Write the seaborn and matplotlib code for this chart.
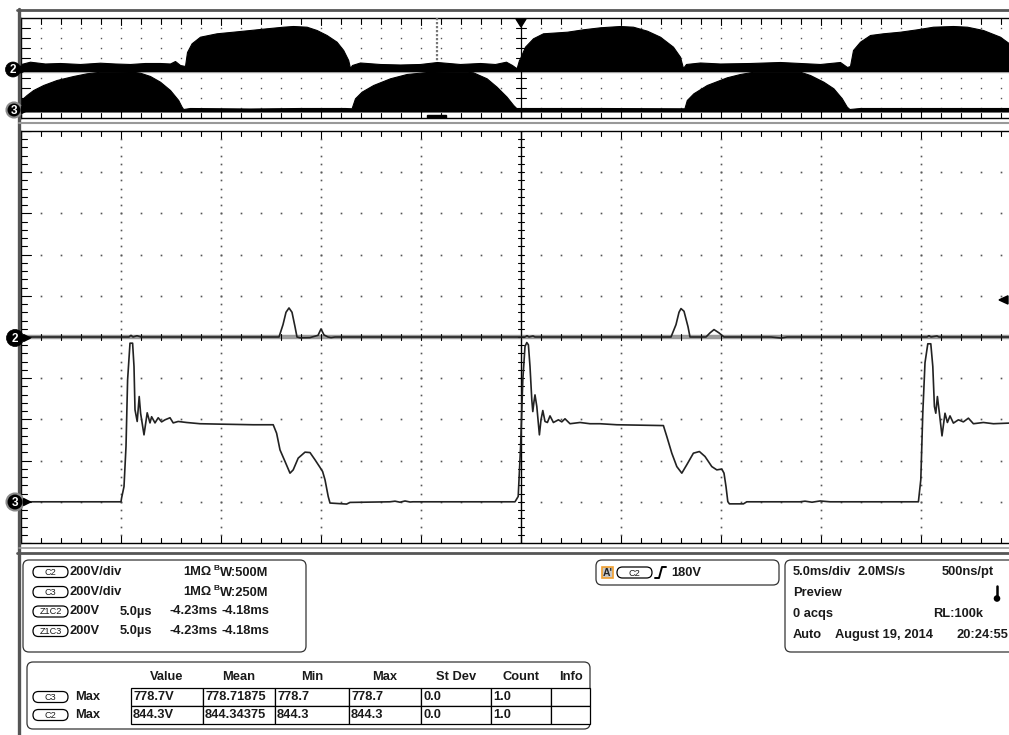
import numpy as np
import pandas as pd
import matplotlib
matplotlib.use("Agg")
import matplotlib.pyplot as plt
import seaborn as sns
from matplotlib.patches import FancyBboxPatch, Rectangle, Circle, Polygon

# ---------------- data ----------------
# Overview panel: 5 ms/div, 200 V/div ; envelopes (time ms, volts)
ch2_env_upper = [(-25.0, 120), (-24.55, 166), (-23.8, 130), (-23.05, 140), (-22.05, 120), (-21.05, 146),
                 (-20.3, 130), (-19.55, 120), (-18.8, 140), (-18.05, 140), (-17.55, 130), (-17.3, 180),
                 (-17.05, 100), (-16.8, 80), (-16.7, 360), (-16.47, 534), (-16.05, 666), (-15.22, 734),
                 (-14.4, 766), (-13.55, 800), (-12.72, 834), (-11.9, 866), (-11.4, 880), (-10.72, 866),
                 (-10.22, 800), (-9.72, 700), (-9.22, 566), (-8.89, 400), (-8.64, 200), (-8.55, 40),
                 (-8.45, 100), (-8.05, 150), (-7.05, 120), (-6.05, 110), (-5.05, 120), (-4.2, 160),
                 (-3.05, 120), (-2.05, 140), (-1.3, 120), (-0.75, 166), (-0.45, 100), (-0.22, 34),
                 (-0.1, 200), (-0.05, 234), (0.2, 466), (0.6, 634), (1.1, 734), (2.3, 766), (3.1, 814),
                 (3.95, 854), (4.95, 880), (5.6, 866), (6.3, 786), (6.95, 666), (7.6, 466), (7.95, 266),
                 (8.1, 40), (8.25, 120), (8.95, 150), (9.95, 130), (11.45, 140), (12.95, 160), (13.95, 140),
                 (14.95, 120), (15.95, 160), (16.3, 60), (16.45, 80), (16.6, 400), (16.95, 566), (17.45, 700),
                 (18.1, 734), (18.95, 766), (19.8, 814), (20.6, 866), (21.6, 880), (22.3, 866), (23.1, 800),
                 (23.95, 666), (24.4, 534), (24.65, 300), (24.75, 60), (25.0, 120)]
ch2_env_lower = -20
ch3_env_upper = [(-25.0, 200), (-24.72, 300), (-24.39, 400), (-23.89, 500), (-23.22, 600), (-22.39, 680),
                 (-21.72, 734), (-21.05, 766), (-19.3, 760), (-19.05, 746), (-18.55, 680), (-18.05, 566),
                 (-17.55, 400), (-17.14, 200), (-16.97, 66), (-16.89, 20), (-16.55, 40), (-13.55, 30),
                 (-11.05, 40), (-8.8, 40), (-8.47, 34), (-8.3, 234), (-7.97, 366), (-7.39, 500), (-6.55, 634),
                 (-5.72, 720), (-4.72, 760), (-2.72, 766), (-2.4, 754), (-1.72, 634), (-1.22, 466),
                 (-0.72, 266), (-0.39, 100), (-0.19, 20), (0.2, 40), (3.95, 40), (8.17, 34), (8.29, 200),
                 (8.62, 334), (9.29, 500), (10.29, 654), (10.95, 720), (11.62, 766), (13.95, 766), (14.45, 700),
                 (15.12, 566), (15.62, 434), (16.04, 234), (16.29, 66), (16.42, 20), (16.95, 40), (21.45, 40),
                 (25.0, 40)]
ch3_env_lower = -30

# Zoom panel: 5 us/div, 200 V/div ; traces (time us, volts)
ch3_zoom = [(-25.0, 0), (-20.0, 0), (-19.97, 19), (-19.85, 74), (-19.75, 268), (-19.67, 592), (-19.55, 770),
            (-19.42, 770), (-19.35, 657), (-19.3, 447), (-19.19, 390), (-19.09, 511), (-19.02, 430),
            (-18.85, 325), (-18.69, 432), (-18.55, 383), (-18.47, 413), (-18.3, 383), (-18.14, 408),
            (-17.97, 388), (-17.8, 398), (-17.55, 408), (-17.39, 383), (-17.14, 390), (-16.72, 385),
            (-16.05, 379), (-15.05, 377), (-13.39, 374), (-12.39, 374), (-12.22, 333), (-12.05, 252),
            (-11.8, 196), (-11.55, 139), (-11.39, 155), (-11.14, 212), (-10.8, 241), (-10.55, 239),
            (-10.3, 204), (-10.05, 167), (-9.92, 147), (-9.8, 107), (-9.64, 26), (-9.55, -6), (-8.72, -11),
            (-8.55, -3), (-6.55, 0), (-6.3, 3), (-6.05, -2), (-5.8, 4), (-5.55, -1), (-5.4, 0), (-0.3, 0),
            (-0.14, 26), (-0.02, 268), (0.09, 592), (0.2, 754), (0.29, 773), (0.37, 762), (0.45, 657),
            (0.54, 495), (0.59, 438), (0.65, 487), (0.7, 519), (0.79, 463), (0.92, 325), (1.0, 398),
            (1.09, 443), (1.2, 390), (1.32, 385), (1.45, 417), (1.62, 385), (1.87, 398), (2.04, 388),
            (2.2, 403), (2.45, 379), (2.95, 385), (3.45, 379), (3.95, 379), (4.79, 374), (7.12, 370),
            (7.29, 317), (7.54, 236), (7.79, 171), (8.04, 139), (8.29, 180), (8.62, 236), (8.92, 244),
            (9.2, 220), (9.54, 171), (9.79, 155), (10.04, 159), (10.15, 139), (10.25, 74), (10.34, 1),
            (10.42, -10), (11.12, -10), (11.29, 0), (13.95, 0), (14.2, 3), (14.55, -2), (14.95, 4),
            (15.45, 0), (19.87, 0), (19.99, 107), (20.09, 432), (20.2, 675), (20.34, 767), (20.49, 767),
            (20.59, 657), (20.67, 463), (20.74, 430), (20.82, 511), (20.92, 430), (21.05, 320), (21.2, 430),
            (21.32, 385), (21.45, 417), (21.62, 382), (21.87, 398), (22.12, 388), (22.37, 406), (22.62, 379),
            (23.12, 385), (23.62, 379), (24.4, 382), (25.0, 380)]
ch2_zoom = [(-25, 0), (-19.6, 0), (-19.5, 8), (-19.4, 0), (-19.2, 6), (-19.0, 0), (-12.1, 0), (-11.9, 60),
            (-11.75, 120), (-11.6, 141), (-11.45, 120), (-11.3, 50), (-11.2, 0), (-11.05, -4), (-10.55, -3),
            (-10.15, 8), (-10.0, 39), (-9.85, 10), (-9.65, 0), (-9.5, -3), (-9.3, 0), (0.2, 0), (0.3, 6),
            (0.4, 0), (0.6, 5), (0.7, 0), (7.5, 0), (7.75, 60), (7.9, 120), (8.0, 138), (8.15, 125),
            (8.35, 50), (8.45, 0), (9.25, 0), (9.45, 20), (9.65, 36), (9.9, 20), (10.15, 0), (12.5, 0),
            (13.0, -5), (13.3, 0), (15.0, 0), (20.3, 0), (20.4, 6), (20.5, 0), (20.8, 5), (20.9, 0), (25, 0)]

volts_per_div = 200
trigger_level = 180
zoom_center_ms = -4.2

chan_rows = [("C2", "200V/div", "1MΩ", "500M"), ("C3", "200V/div", "1MΩ", "250M")]
zoom_rows = [("Z1C2", "200V", "5.0µs", "-4.23ms", "-4.18ms"), ("Z1C3", "200V", "5.0µs", "-4.23ms", "-4.18ms")]
timebase_lines = [("5.0ms/div", "2.0MS/s", "500ns/pt"), ("Preview", "", ""), ("0 acqs", "", "RL:100k"),
                  ("Auto", "August 19, 2014", "20:24:55")]
meas_headers = ["Value", "Mean", "Min", "Max", "St Dev", "Count", "Info"]
meas_rows = [("C3", "Max", ["778.7V", "778.71875", "778.7", "778.7", "0.0", "1.0", ""]),
             ("C2", "Max", ["844.3V", "844.34375", "844.3", "844.3", "0.0", "1.0", ""])]

# ---------------- figure ----------------
W, H = 1009, 735
sns.set_style("white")
plt.rcParams['font.family'] = ['Liberation Sans', 'DejaVu Sans']
fig = plt.figure(figsize=(W / 100, H / 100), dpi=100)
fig.patch.set_facecolor("white")


def px_axes(x0, y0, x1, y1, z=1):
    a = fig.add_axes([x0 / W, 1 - y1 / H, (x1 - x0) / W, (y1 - y0) / H])
    a.set_zorder(z)
    return a


TRACE = "#222222"
DOT = "#555555"

# ---------- overview panel ----------
axt = px_axes(21, 18, 1021, 118)
axt.set_xlim(-25, 25)
axt.set_ylim(-5, 5)
off2_top, off3_top = -0.2, -4.2
e2 = pd.DataFrame(ch2_env_upper, columns=["t", "v"])
e3 = pd.DataFrame(ch3_env_upper, columns=["t", "v"])
axt.fill_between(e2.t, ch2_env_lower / volts_per_div + off2_top, e2.v / volts_per_div + off2_top,
                 color="black", lw=0.8, zorder=3)
axt.fill_between(e3.t, ch3_env_lower / volts_per_div + off3_top, e3.v / volts_per_div + off3_top,
                 color="black", lw=0.8, zorder=3)
axt.axhline(off2_top - 0.2, color="#aaaaaa", lw=1, zorder=1)
gx = np.arange(-24, 25, 1.0)
for gy in [-4, -3, -2, -1, 1, 2, 3, 4]:
    axt.plot(gx, np.full_like(gx, gy), ls="none", marker="s", ms=1.0, color=DOT, mew=0, zorder=2)
for t in np.arange(-25, 26, 1.0):
    ln = 0.7 if t % 5 == 0 else 0.55
    axt.plot([t, t], [5, 5 - ln], color="black", lw=0.8, zorder=2)
    axt.plot([t, t], [-5, -5 + ln], color="black", lw=0.8, zorder=2)
for gy in range(-4, 5):
    axt.plot([-25, -24.55], [gy, gy], color="black", lw=0.8, zorder=2)
    axt.plot([-0.25, 0.25], [gy, gy], color="black", lw=0.8, zorder=2)
axt.axvline(0, color="black", lw=0.9, zorder=2)
axt.plot([zoom_center_ms, zoom_center_ms], [5, 0.6], color="#777777", lw=1.6, ls=(0, (1, 0.8)), zorder=4)
axt.add_patch(Rectangle((zoom_center_ms - 0.5, -5.1), 0.95, 0.4, color="black", zorder=5))
for s in axt.spines.values():
    s.set_color("black")
    s.set_linewidth(1.0)
axt.set_xticks([])
axt.set_yticks([])

# ---------- zoom panel ----------
axm = px_axes(21, 131, 1021, 543)
axm.set_xlim(-25, 25)
axm.set_ylim(-5, 5)
off2_m, off3_m = 0.0, -4.0
gx = np.arange(-24, 25, 1.0)
for gy in [-4, -3, -2, -1, 1, 2, 3, 4]:
    axm.plot(gx, np.full_like(gx, gy), ls="none", marker="s", ms=1.2, color=DOT, mew=0, zorder=1)
gyv = np.arange(-4.8, 5, 0.2)
for gxc in [-20, -15, -10, -5, 5, 10, 15, 20]:
    axm.plot(np.full_like(gyv, gxc), gyv, ls="none", marker="s", ms=1.2, color=DOT, mew=0, zorder=1)
axm.axvline(0, color="black", lw=1.0, zorder=2)
axm.axhline(0, color="#9a9a9a", lw=3.2, zorder=2)
for t in np.arange(-25, 26, 1.0):
    ln = 0.17 if t % 5 == 0 else 0.13
    axm.plot([t, t], [5, 5 - ln], color="black", lw=0.8, zorder=2)
    axm.plot([t, t], [-5, -5 + ln], color="black", lw=0.8, zorder=2)
    axm.plot([t, t], [-0.08, 0.08], color="black", lw=0.8, zorder=2)
for gy in np.arange(-5, 5.01, 0.2):
    major = abs(gy - round(gy)) < 1e-6
    axm.plot([-25, -24.5 if major else -24.72], [gy, gy], color="black", lw=0.8, zorder=2)
    axm.plot([-0.15, 0.15], [gy, gy], color="black", lw=0.8, zorder=2)
z3 = pd.DataFrame(ch3_zoom, columns=["t", "v"])
z3["y"] = z3.v / volts_per_div + off3_m
z2 = pd.DataFrame(ch2_zoom, columns=["t", "v"])
z2["y"] = z2.v / volts_per_div + off2_m
sns.lineplot(data=z2, x="t", y="y", ax=axm, sort=False, estimator=None, color=TRACE, lw=1.2, zorder=4)
sns.lineplot(data=z3, x="t", y="y", ax=axm, sort=False, estimator=None, color=TRACE, lw=1.2, zorder=4)
axm.set_xlim(-25, 25)
axm.set_ylim(-5, 5)
axm.set_xlabel("")
axm.set_ylabel("")
axm.set_xticks([])
axm.set_yticks([])
for s in axm.spines.values():
    s.set_color("black")
    s.set_linewidth(1.0)
trig_y = trigger_level / volts_per_div + off2_m
axm.add_patch(Polygon([(23.9, trig_y), (24.35, trig_y + 0.1), (24.35, trig_y - 0.1)], closed=True,
                      color="black", zorder=5, clip_on=False))

# ---------- overlay (pixel coordinates) ----------
ov = fig.add_axes([0, 0, 1, 1])
ov.set_zorder(10)
ov.patch.set_alpha(0)
ov.set_xlim(0, W)
ov.set_ylim(H, 0)
ov.axis("off")

ov.plot([17, W], [9.5, 9.5], color="#555555", lw=2.0)
ov.plot([18.5, 18.5], [8.5, H], color="#555555", lw=2.4)
ov.plot([19, W], [122.5, 122.5], color="#999999", lw=1.5)
ov.plot([19, W], [548, 548], color="#999999", lw=1.2)
ov.plot([17, W], [553, 553], color="#555555", lw=2.0)

ov.add_patch(Polygon([(516, 19), (526, 19), (521, 27)], closed=True, color="black"))


def chan_marker(cx, cy, num, ring, arrow=True, r=8):
    ov.add_patch(Circle((cx, cy), r, facecolor="black", edgecolor="#8a8a8a" if ring else "black",
                        lw=1.5 if ring else 0.5, zorder=12))
    ov.text(cx, cy + 0.5, num, color="white", fontsize=8.5, fontweight="bold", ha="center", va="center",
            zorder=13)
    if arrow:
        ov.add_patch(Polygon([(cx + r, cy - 3.5), (cx + r, cy + 3.5), (cx + r + 7, cy)], closed=True,
                             color="black", zorder=12))


chan_marker(13, 69.5, "2", False, r=7.5)
chan_marker(14, 110, "3", True, r=7.5)
chan_marker(15, 338, "2", False, r=8.5)
chan_marker(15, 502, "3", True, r=8.5)

FS = 9.3
TC = "#1a1a1a"


def txt(x, y, s, ha="left", fs=FS):
    ov.text(x, y, s, fontsize=fs, fontweight="bold", ha=ha, va="center", color=TC, zorder=12)


def pill(x0, yc, label, w=35, h=11):
    ov.add_patch(FancyBboxPatch((x0, yc - h / 2), w, h, boxstyle="round,pad=0,rounding_size=5.5",
                                facecolor="white", edgecolor="black", lw=0.9, zorder=11))
    ov.text(x0 + w / 2, yc + 0.5, label, fontsize=6.6, ha="center", va="center", color=TC, zorder=12)


def rbox(x0, y0, x1, y1):
    ov.add_patch(FancyBboxPatch((x0, y0), x1 - x0, y1 - y0, boxstyle="round,pad=0,rounding_size=6",
                                facecolor="white", edgecolor="#333333", lw=0.9, zorder=10))


# channel box
rbox(23, 560, 306, 652)
rows_y = [572, 592, 611.5, 631]
for (lab, vd, imp, bw), yc in zip(chan_rows, rows_y[:2]):
    pill(33, yc, lab)
    txt(70, yc, vd)
    txt(211, yc, imp, ha="right")
    txt(213.5, yc - 3, "B", fs=6.0)
    txt(219.5, yc + 0.5, "W:" + bw)
for (lab, v, tdiv, a, b), yc in zip(zoom_rows, rows_y[2:]):
    pill(33, yc, lab)
    txt(70, yc, v)
    txt(120, yc, tdiv)
    txt(170, yc, a)
    txt(222, yc, b)

# trigger box
rbox(596, 560, 779, 585)
ov.add_patch(Rectangle((602, 567), 11, 11, facecolor="#c8c8c8", edgecolor="#f0a030", lw=1.2, zorder=11))
ov.text(607.5, 573, "A'", fontsize=7.5, fontweight="bold", ha="center", va="center", zorder=12)
pill(617, 572.5, "C2", w=35)
ov.plot([655, 659, 660.5, 662, 666], [578, 578, 572.5, 567, 567], color="black", lw=1.4, zorder=12)
txt(671, 572.5, f"{trigger_level}V")

# timebase box
rbox(785, 560, 1030, 652)
tb_y = [572, 593, 614, 635]
txt(793, tb_y[0], timebase_lines[0][0])
txt(857, tb_y[0], timebase_lines[0][1])
txt(942, tb_y[0], timebase_lines[0][2])
txt(793, tb_y[1], timebase_lines[1][0])
txt(793, tb_y[2], timebase_lines[2][0])
txt(933, tb_y[2], timebase_lines[2][2])
txt(793, tb_y[3], timebase_lines[3][0])
txt(835, tb_y[3], timebase_lines[3][1])
txt(1008, tb_y[3], timebase_lines[3][2], ha="right")
ov.plot([997, 997], [586, 597], color="black", lw=1.8, zorder=12, solid_capstyle="round")
ov.add_patch(Circle((997, 598.5), 2.6, color="black", zorder=12))

# measurement table
rbox(27, 662, 590, 729)
col_x = [131, 203, 275, 349, 421, 491, 551, 590]
head_y = 677
for i, hd in enumerate(meas_headers):
    txt((col_x[i] + col_x[i + 1]) / 2, head_y, hd, ha="center")
row_top = [688, 706]
for (ch, kind, vals), yt in zip(meas_rows, row_top):
    yc = yt + 9
    pill(33, yc, ch)
    txt(75, yc, kind)
    for i, v in enumerate(vals):
        ov.add_patch(Rectangle((col_x[i], yt), col_x[i + 1] - col_x[i], 18, facecolor="white",
                               edgecolor="black", lw=0.9, zorder=11))
        txt(col_x[i] + 2, yc, v)

fig.savefig("out.png", dpi=100, facecolor="white")
